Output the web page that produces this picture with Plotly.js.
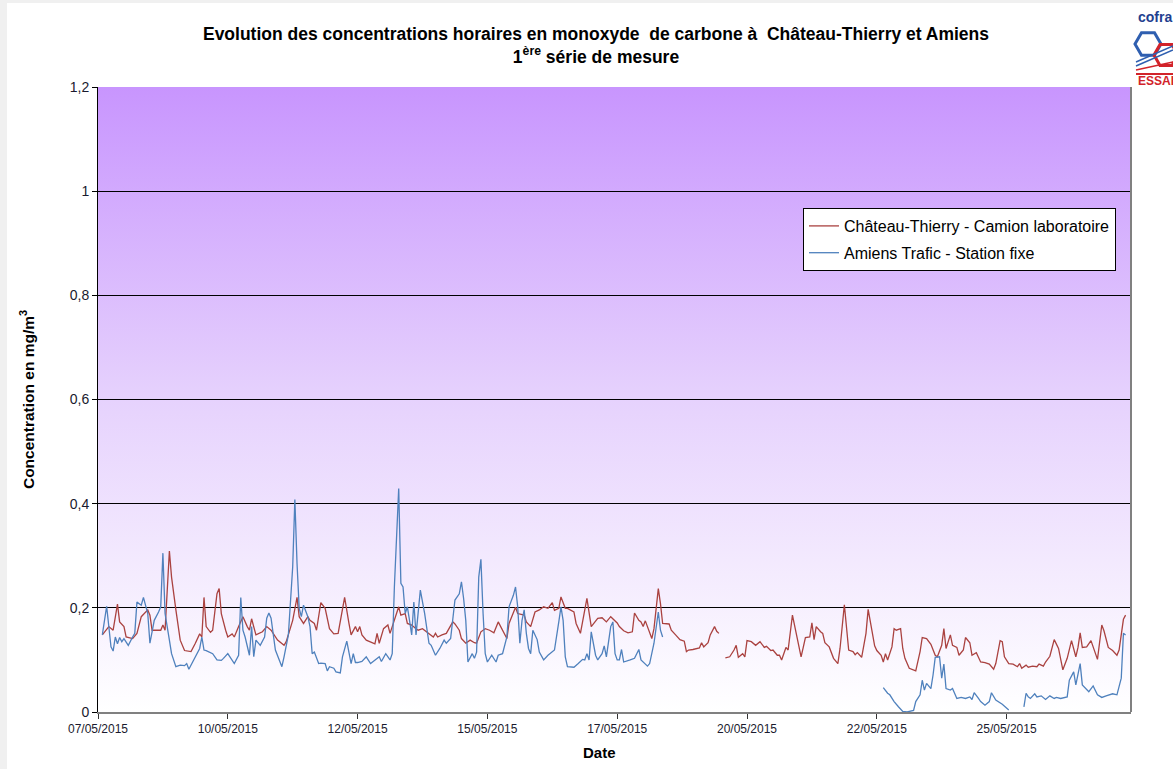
<!DOCTYPE html>
<html>
<head>
<meta charset="utf-8">
<script src="https://cdn.plot.ly/plotly-3.0.1.min.js"></script>
<style>
  html, body { margin: 0; padding: 0; background: #ffffff; }
  #chart { width: 1173px; height: 769px; }
</style>
</head>
<body>
<div id="chart"></div>
<script>
// ---- Data (hours since 07/05/2015 00:00, concentrations in mg/m3) ----
const tickHours = [0, 60, 120, 180, 240, 300, 360, 420];
const tickLabels = ["07/05/2015", "10/05/2015", "12/05/2015", "15/05/2015", "17/05/2015", "20/05/2015", "22/05/2015", "25/05/2015"];

const ctName = "Château-Thierry - Camion laboratoire";
const ctHours = [2,5,7,9,10,12,13,16,18,20,23,24,25,27,29,30,31,33,34,36,38,40,43,45,47,48,49,50,52,53,55,56,57,59,60,62,63,65,67,69,70,71,73,76,78,80,83,86,87,90,92,93,95,97,98,100,101,103,105,107,109,111,114,116,117,119,120,121,122,124,127,128,129,130,132,133,134,135,137,139,140,142,143,145,147,148,150,152,153,155,156,157,159,161,164,165,167,168,170,172,174,175,177,179,181,183,185,187,189,190,192,193,194,197,198,200,202,204,206,208,210,211,213,214,216,217,220,221,223,226,228,231,233,235,237,240,241,243,245,247,248,250,251,252,253,255,256,257,258,259,260,261,264,265,267,269,271,272,273,275,278,279,280,282,283,285,286,287,288,290,292,294,295,296,298,299,300,302,304,306,308,309,311,312,314,315,316,318,319,321,323,325,326,327,329,330,331,332,334,335,336,338,340,342,343,345,347,349,350,351,353,355,356,358,359,360,362,363,364,365,367,368,369,371,372,373,375,378,380,381,383,385,387,388,390,391,392,394,395,397,398,400,401,403,404,406,408,410,412,414,415,417,418,419,421,423,425,426,427,429,430,432,434,435,437,438,440,442,444,446,448,450,452,453,454,455,457,459,460,462,464,465,467,469,471,472,474,475];
const ctValues = [.148,.164,.157,.207,.173,.164,.144,.141,.151,.183,.196,.186,.157,.157,.157,.167,.157,.309,.259,.196,.138,.118,.116,.132,.150,.144,.220,.164,.153,.157,.227,.237,.189,.157,.144,.150,.144,.164,.183,.164,.157,.179,.148,.154,.164,.157,.138,.128,.135,.176,.220,.183,.170,.183,.176,.170,.157,.210,.199,.160,.150,.151,.220,.170,.148,.164,.154,.164,.148,.138,.133,.131,.151,.132,.160,.164,.167,.151,.176,.202,.186,.189,.170,.167,.160,.157,.160,.154,.151,.144,.151,.144,.148,.151,.173,.169,.157,.141,.132,.138,.133,.132,.154,.160,.157,.152,.173,.157,.141,.170,.192,.201,.189,.186,.173,.164,.192,.196,.202,.199,.210,.195,.199,.221,.199,.199,.192,.170,.151,.218,.164,.180,.181,.173,.183,.171,.164,.156,.152,.154,.190,.176,.173,.164,.175,.151,.141,.160,.197,.237,.208,.170,.169,.157,.148,.139,.136,.116,.119,.120,.123,.133,.125,.133,.148,.164,.155,.151,null,.104,.106,.119,.128,.105,.112,.106,.137,.135,.128,.135,.124,.126,.118,.119,.109,.109,.100,.124,.119,.186,.146,.106,.124,.143,.144,.171,.139,.164,.154,.151,.133,.125,.103,.093,.122,.206,.119,.116,.110,.114,.105,.151,.197,.146,.127,.118,.109,.096,.112,.100,.125,.160,.157,.160,.122,.103,.084,.079,.116,.143,.141,.130,.109,.106,.128,.160,.122,.148,.128,.124,.109,.119,.143,.133,.109,.114,.096,.095,.092,.082,.093,.137,.135,.106,.093,.092,.087,.093,.084,.090,.086,.088,.087,.092,.088,.096,.107,.139,.122,.081,.103,.137,.106,.124,.152,.124,.125,.137,.125,.101,.167,.156,.124,.118,.109,.119,.178,.186];

const amName = "Amiens Trafic - Station fixe";
const amHours = [2,4,6,7,8,9,10,11,12,14,16,17,18,20,21,23,24,26,28,29,30,31,33,34,36,38,40,41,42,43,45,47,48,49,50,53,55,57,58,60,63,64,65,66,67,68,70,71,72,73,75,77,78,79,80,82,84,85,86,88,90,91,92,93,94,95,97,98,99,100,102,103,105,106,107,109,110,112,113,115,117,118,119,120,122,124,126,128,130,131,133,135,136,137,139,140,141,142,143,144,145,146,147,149,151,153,154,156,158,160,161,163,165,167,168,169,170,171,173,174,175,176,177,178,179,180,182,184,185,187,189,190,192,193,194,195,196,197,198,199,200,201,203,204,206,208,211,213,214,215,216,217,220,222,224,225,226,227,228,230,231,233,234,235,237,238,239,240,241,242,243,246,248,250,251,254,255,257,258,259,260,261,262,363,365,366,368,370,372,374,377,378,380,381,382,383,385,386,387,389,390,391,392,394,395,397,399,401,403,404,405,407,408,410,412,413,415,418,420,421,424,428,429,430,431,433,434,436,438,440,442,443,445,448,449,451,452,454,455,458,460,462,464,466,469,471,473,474,475];
const amValues = [.148,.203,.125,.117,.144,.131,.143,.135,.141,.128,.144,.151,.211,.205,.220,.189,.132,.176,.192,.202,.305,.189,.138,.112,.087,.090,.089,.093,.082,.090,.106,.122,.144,.119,.118,.112,.100,.099,.103,.112,.093,.100,.109,.220,.157,.144,.109,.164,.106,.138,.128,.144,.180,.190,.180,.119,.096,.087,.106,.148,.279,.408,.285,.199,.183,.205,.183,.164,.112,.115,.093,.094,.093,.079,.087,.084,.077,.075,.106,.136,.093,.112,.095,.095,.097,.106,.093,.100,.106,.097,.112,.100,.112,.240,.429,.247,.240,.189,.202,.176,.148,.211,.148,.234,.189,.132,.128,.109,.122,.138,.132,.141,.215,.227,.250,.218,.176,.096,.112,.103,.115,.259,.293,.189,.112,.096,.109,.096,.109,.112,.144,.202,.224,.240,.202,.132,.176,.196,.151,.122,.112,.157,.139,.115,.100,.109,.119,.173,.202,.176,.106,.087,.086,.093,.101,.100,.112,.100,.154,.109,.100,.112,.127,.106,.164,.173,.112,.100,.100,.120,.096,.100,.103,.120,.100,.088,.093,.132,.164,.192,.157,.144,null,.047,.036,.033,.020,.010,.001,0,.003,.020,.033,.061,.042,.055,.045,.071,.105,.106,.065,.092,.045,.042,.045,.026,.028,.026,.029,.024,.037,.026,.020,.013,.020,.037,.023,.015,.007,.004,null,.010,.036,.029,.026,.035,.029,.031,.024,.031,.026,.028,.026,.029,.061,.077,.052,.093,.052,.039,.050,.033,.028,.031,.035,.033,.065,.151,.148];

// ---- Geometry helpers (decorations only) ----
const W = 1173, H = 769;
const M = {l: 98, r: 42, t: 87, b: 57};
const PW = W - M.l - M.r, PH = H - M.t - M.b;
const px2x = p => (p - M.l) / PW;
const py2y = p => (H - M.b - p) / PH;

function hexPath(cx, cy, r) {
  let d = "";
  for (let i = 0; i < 6; i++) {
    const a = Math.PI / 3 * i;
    const x = px2x(cx + r * Math.cos(a)), y = py2y(cy + r * Math.sin(a));
    d += (i === 0 ? "M" : "L") + x.toFixed(5) + "," + y.toFixed(5);
  }
  return d + "Z";
}

const gradSvg = "<svg xmlns='http://www.w3.org/2000/svg' width='100' height='100' preserveAspectRatio='none'>" +
  "<defs><linearGradient id='g' x1='0' y1='0' x2='0' y2='1'>" +
  "<stop offset='0' stop-color='#c895fe'/><stop offset='0.5' stop-color='#e6d2fd'/><stop offset='1' stop-color='#ffffff'/>" +
  "</linearGradient></defs><rect width='100' height='100' fill='url(#g)'/></svg>";
const gradUri = "data:image/svg+xml;charset=utf-8," + encodeURIComponent(gradSvg);

const FONT = "Liberation Sans, Arial, sans-serif";

const traces = [
  {x: ctHours, y: ctValues, name: ctName, type: "scatter", mode: "lines",
   line: {color: "#aa4240", width: 1.3}, legendgroup: "a", connectgaps: false},
  {x: amHours, y: amValues, name: amName, type: "scatter", mode: "lines",
   line: {color: "#4f81bd", width: 1.3}, legendgroup: "b", connectgaps: false}
];

const layout = {
  width: W, height: H,
  margin: M,
  paper_bgcolor: "#ffffff",
  plot_bgcolor: "rgba(0,0,0,0)",
  separators: ", ",
  font: {family: FONT, color: "#000000", size: 14},
  showlegend: true,
  title: {
    text: "<b>Evolution des concentrations horaires en monoxyde  de carbone à  Château-Thierry et Amiens<br>1<sup>ère</sup> série de mesure</b>",
    font: {family: FONT, size: 17.5, color: "#000000"},
    x: 596 / W, xanchor: "center", xref: "container",
    y: 1 - 40 / H, yanchor: "middle", yref: "container"
  },
  xaxis: {
    type: "linear",
    range: [0, 477.5],
    tickmode: "array",
    tickvals: tickHours,
    ticktext: tickLabels,
    tickfont: {family: FONT, size: 12, color: "#1a1a2e"},
    ticks: "outside", ticklen: 5, tickcolor: "#333333", tickwidth: 1,
    showgrid: false, zeroline: false,
    showline: true, linecolor: "#808080", linewidth: 2,
    fixedrange: true
  },
  yaxis: {
    range: [0, 1.2],
    dtick: 0.2, tick0: 0,
    tickfont: {family: FONT, size: 14, color: "#1a1a2e"},
    ticks: "outside", ticklen: 5, tickcolor: "#000000", tickwidth: 1,
    showgrid: true, gridcolor: "#000000", gridwidth: 1,
    zeroline: false,
    showline: true, linecolor: "#000000", linewidth: 1,
    title: {text: "<b>Concentration en mg/m<sup>3</sup></b>", font: {family: FONT, size: 15.5, color: "#000000"}, standoff: 31},
    fixedrange: true
  },
  legend: {
    x: px2x(803), y: py2y(208), xanchor: "left", yanchor: "top",
    bgcolor: "#ffffff", bordercolor: "#000000", borderwidth: 1,
    font: {family: FONT, size: 16, color: "#000000"},
    tracegroupgap: 3, traceorder: "grouped", itemwidth: 30
  },
  images: [{
    source: gradUri, xref: "paper", yref: "paper",
    x: 0, y: 1, sizex: 1, sizey: 1, xanchor: "left", yanchor: "top",
    sizing: "stretch", layer: "below"
  }],
  shapes: [
    // right border of plot area
    {type: "line", xref: "paper", yref: "paper", x0: 1, x1: 1, y0: 0, y1: 1,
     line: {color: "#808080", width: 2}},
    // page frame strips
    {type: "rect", xref: "paper", yref: "paper", x0: px2x(0), x1: px2x(7), y0: py2y(H), y1: py2y(0),
     fillcolor: "#f0f0f0", line: {width: 0}},
    {type: "rect", xref: "paper", yref: "paper", x0: px2x(0), x1: px2x(W), y0: py2y(3), y1: py2y(0),
     fillcolor: "#f0f0f0", line: {width: 0}},
    // logo
    {type: "path", xref: "paper", yref: "paper", path: hexPath(1148, 44, 13), line: {color: "#2f5fb0", width: 3}},
    {type: "path", xref: "paper", yref: "paper", path: hexPath(1166, 55, 12), line: {color: "#d2232a", width: 3}},
    {type: "line", xref: "paper", yref: "paper", x0: px2x(1136), y0: py2y(62), x1: px2x(1173), y1: py2y(46), line: {color: "#2f5fb0", width: 1.5}},
    {type: "line", xref: "paper", yref: "paper", x0: px2x(1136), y0: py2y(66), x1: px2x(1173), y1: py2y(50), line: {color: "#2f5fb0", width: 1.5}},
    {type: "line", xref: "paper", yref: "paper", x0: px2x(1136), y0: py2y(70), x1: px2x(1173), y1: py2y(62), line: {color: "#d2232a", width: 1.5}},
    {type: "line", xref: "paper", yref: "paper", x0: px2x(1136), y0: py2y(74), x1: px2x(1173), y1: py2y(74), line: {color: "#d2232a", width: 2}}
  ],
  annotations: [
    {text: "<b>Date</b>", xref: "paper", yref: "paper", x: px2x(599), y: py2y(752),
     xanchor: "center", yanchor: "middle", showarrow: false,
     font: {family: FONT, size: 15, color: "#000000"}},
    {text: "<b>cofra</b>", xref: "paper", yref: "paper", x: px2x(1136), y: py2y(17),
     xanchor: "left", yanchor: "middle", showarrow: false,
     font: {family: FONT, size: 14, color: "#1f3f8f"}},
    {text: "<b>ESSAI</b>", xref: "paper", yref: "paper", x: px2x(1136), y: py2y(81),
     xanchor: "left", yanchor: "middle", showarrow: false,
     font: {family: FONT, size: 12, color: "#d2232a"}}
  ]
};

Plotly.newPlot("chart", traces, layout, {displayModeBar: false, staticPlot: true});
</script>
</body>
</html>
